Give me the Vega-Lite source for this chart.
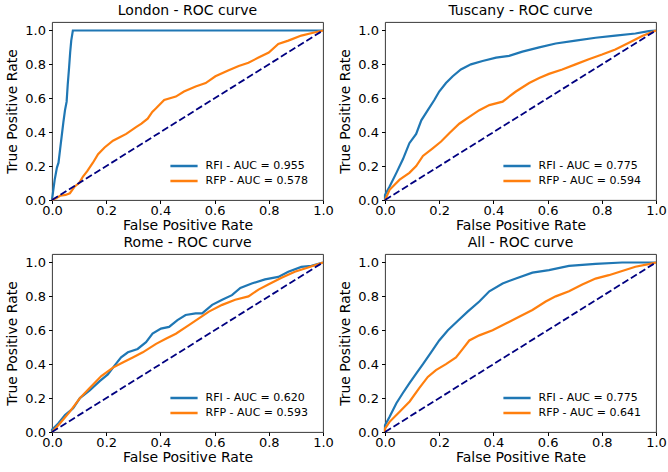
{
"$schema": "https://vega.github.io/schema/vega-lite/v6.json",
"padding": {"left": 5, "top": 3, "right": 0, "bottom": 0},
"config": {
  "font": "DejaVu Sans",
  "view": {"stroke": "#222", "strokeWidth": 0.9},
  "axis": {"domain": false, "grid": false, "tickColor": "black", "tickSize": 3.5, "labelFont": "DejaVu Sans", "labelFontSize": 13, "labelColor": "black", "labelPadding": 3, "titleFont": "DejaVu Sans", "titleFontSize": 14, "titleFontWeight": "normal", "titleColor": "black", "labelFlush": false, "labelOverlap": false, "labelBound": false, "labelSeparation": 0},
  "axisY": {"titlePadding": 5},
  "axisX": {"titlePadding": 1, "labelPadding": 1},
  "title": {"font": "DejaVu Sans", "fontSize": 14, "fontWeight": "normal", "color": "black", "offset": 4},
  "legend": {"orient": "bottom-right", "offset": 14, "padding": 0, "rowPadding": 0, "labelFont": "DejaVu Sans", "labelFontSize": 11, "labelColor": "black", "symbolType": "M-1.6,0H1.6", "symbolSize": 289, "symbolStrokeWidth": 2.5, "labelOffset": 11.5, "title": null}
},
"datasets": {
  "diag": [{"x": 0, "y": 0}, {"x": 1, "y": 1}],
  "roc": [
{"region":"London","label":"RFI - AUC = 0.955","i":0,"x":0,"y":0},
{"region":"London","label":"RFI - AUC = 0.955","i":1,"x":0.004,"y":0.05},
{"region":"London","label":"RFI - AUC = 0.955","i":2,"x":0.01,"y":0.12},
{"region":"London","label":"RFI - AUC = 0.955","i":3,"x":0.018,"y":0.19},
{"region":"London","label":"RFI - AUC = 0.955","i":4,"x":0.024,"y":0.22},
{"region":"London","label":"RFI - AUC = 0.955","i":5,"x":0.03,"y":0.3},
{"region":"London","label":"RFI - AUC = 0.955","i":6,"x":0.036,"y":0.38},
{"region":"London","label":"RFI - AUC = 0.955","i":7,"x":0.042,"y":0.46},
{"region":"London","label":"RFI - AUC = 0.955","i":8,"x":0.048,"y":0.53},
{"region":"London","label":"RFI - AUC = 0.955","i":9,"x":0.054,"y":0.58},
{"region":"London","label":"RFI - AUC = 0.955","i":10,"x":0.058,"y":0.68},
{"region":"London","label":"RFI - AUC = 0.955","i":11,"x":0.063,"y":0.78},
{"region":"London","label":"RFI - AUC = 0.955","i":12,"x":0.067,"y":0.87},
{"region":"London","label":"RFI - AUC = 0.955","i":13,"x":0.071,"y":0.94},
{"region":"London","label":"RFI - AUC = 0.955","i":14,"x":0.075,"y":0.98},
{"region":"London","label":"RFI - AUC = 0.955","i":15,"x":0.077,"y":1.0},
{"region":"London","label":"RFI - AUC = 0.955","i":16,"x":1,"y":1},
{"region":"London","label":"RFP - AUC = 0.578","i":0,"x":0,"y":0},
{"region":"London","label":"RFP - AUC = 0.578","i":1,"x":0.015,"y":0.01},
{"region":"London","label":"RFP - AUC = 0.578","i":2,"x":0.03,"y":0.025},
{"region":"London","label":"RFP - AUC = 0.578","i":3,"x":0.05,"y":0.03},
{"region":"London","label":"RFP - AUC = 0.578","i":4,"x":0.066,"y":0.04},
{"region":"London","label":"RFP - AUC = 0.578","i":5,"x":0.084,"y":0.08},
{"region":"London","label":"RFP - AUC = 0.578","i":6,"x":0.1,"y":0.1},
{"region":"London","label":"RFP - AUC = 0.578","i":7,"x":0.115,"y":0.14},
{"region":"London","label":"RFP - AUC = 0.578","i":8,"x":0.13,"y":0.17},
{"region":"London","label":"RFP - AUC = 0.578","i":9,"x":0.151,"y":0.22},
{"region":"London","label":"RFP - AUC = 0.578","i":10,"x":0.17,"y":0.27},
{"region":"London","label":"RFP - AUC = 0.578","i":11,"x":0.194,"y":0.31},
{"region":"London","label":"RFP - AUC = 0.578","i":12,"x":0.225,"y":0.35},
{"region":"London","label":"RFP - AUC = 0.578","i":13,"x":0.25,"y":0.37},
{"region":"London","label":"RFP - AUC = 0.578","i":14,"x":0.274,"y":0.39},
{"region":"London","label":"RFP - AUC = 0.578","i":15,"x":0.31,"y":0.43},
{"region":"London","label":"RFP - AUC = 0.578","i":16,"x":0.33,"y":0.45},
{"region":"London","label":"RFP - AUC = 0.578","i":17,"x":0.353,"y":0.48},
{"region":"London","label":"RFP - AUC = 0.578","i":18,"x":0.37,"y":0.52},
{"region":"London","label":"RFP - AUC = 0.578","i":19,"x":0.383,"y":0.54},
{"region":"London","label":"RFP - AUC = 0.578","i":20,"x":0.414,"y":0.59},
{"region":"London","label":"RFP - AUC = 0.578","i":21,"x":0.457,"y":0.61},
{"region":"London","label":"RFP - AUC = 0.578","i":22,"x":0.487,"y":0.64},
{"region":"London","label":"RFP - AUC = 0.578","i":23,"x":0.53,"y":0.67},
{"region":"London","label":"RFP - AUC = 0.578","i":24,"x":0.567,"y":0.69},
{"region":"London","label":"RFP - AUC = 0.578","i":25,"x":0.603,"y":0.73},
{"region":"London","label":"RFP - AUC = 0.578","i":26,"x":0.652,"y":0.765},
{"region":"London","label":"RFP - AUC = 0.578","i":27,"x":0.689,"y":0.79},
{"region":"London","label":"RFP - AUC = 0.578","i":28,"x":0.725,"y":0.81},
{"region":"London","label":"RFP - AUC = 0.578","i":29,"x":0.762,"y":0.84},
{"region":"London","label":"RFP - AUC = 0.578","i":30,"x":0.8,"y":0.87},
{"region":"London","label":"RFP - AUC = 0.578","i":31,"x":0.835,"y":0.92},
{"region":"London","label":"RFP - AUC = 0.578","i":32,"x":0.872,"y":0.94},
{"region":"London","label":"RFP - AUC = 0.578","i":33,"x":0.92,"y":0.97},
{"region":"London","label":"RFP - AUC = 0.578","i":34,"x":0.96,"y":0.985},
{"region":"London","label":"RFP - AUC = 0.578","i":35,"x":1,"y":1},
{"region":"Tuscany","label":"RFI - AUC = 0.775","i":0,"x":0,"y":0},
{"region":"Tuscany","label":"RFI - AUC = 0.775","i":1,"x":0,"y":0.03},
{"region":"Tuscany","label":"RFI - AUC = 0.775","i":2,"x":0.017,"y":0.08},
{"region":"Tuscany","label":"RFI - AUC = 0.775","i":3,"x":0.042,"y":0.16},
{"region":"Tuscany","label":"RFI - AUC = 0.775","i":4,"x":0.066,"y":0.24},
{"region":"Tuscany","label":"RFI - AUC = 0.775","i":5,"x":0.09,"y":0.335},
{"region":"Tuscany","label":"RFI - AUC = 0.775","i":6,"x":0.115,"y":0.39},
{"region":"Tuscany","label":"RFI - AUC = 0.775","i":7,"x":0.134,"y":0.47},
{"region":"Tuscany","label":"RFI - AUC = 0.775","i":8,"x":0.158,"y":0.53},
{"region":"Tuscany","label":"RFI - AUC = 0.775","i":9,"x":0.182,"y":0.59},
{"region":"Tuscany","label":"RFI - AUC = 0.775","i":10,"x":0.2,"y":0.64},
{"region":"Tuscany","label":"RFI - AUC = 0.775","i":11,"x":0.225,"y":0.69},
{"region":"Tuscany","label":"RFI - AUC = 0.775","i":12,"x":0.25,"y":0.73},
{"region":"Tuscany","label":"RFI - AUC = 0.775","i":13,"x":0.28,"y":0.77},
{"region":"Tuscany","label":"RFI - AUC = 0.775","i":14,"x":0.317,"y":0.8},
{"region":"Tuscany","label":"RFI - AUC = 0.775","i":15,"x":0.36,"y":0.82},
{"region":"Tuscany","label":"RFI - AUC = 0.775","i":16,"x":0.41,"y":0.84},
{"region":"Tuscany","label":"RFI - AUC = 0.775","i":17,"x":0.458,"y":0.85},
{"region":"Tuscany","label":"RFI - AUC = 0.775","i":18,"x":0.507,"y":0.875},
{"region":"Tuscany","label":"RFI - AUC = 0.775","i":19,"x":0.569,"y":0.9},
{"region":"Tuscany","label":"RFI - AUC = 0.775","i":20,"x":0.63,"y":0.923},
{"region":"Tuscany","label":"RFI - AUC = 0.775","i":21,"x":0.703,"y":0.94},
{"region":"Tuscany","label":"RFI - AUC = 0.775","i":22,"x":0.777,"y":0.957},
{"region":"Tuscany","label":"RFI - AUC = 0.775","i":23,"x":0.85,"y":0.97},
{"region":"Tuscany","label":"RFI - AUC = 0.775","i":24,"x":0.924,"y":0.982},
{"region":"Tuscany","label":"RFI - AUC = 0.775","i":25,"x":0.973,"y":0.996},
{"region":"Tuscany","label":"RFI - AUC = 0.775","i":26,"x":1,"y":1},
{"region":"Tuscany","label":"RFP - AUC = 0.594","i":0,"x":0,"y":0},
{"region":"Tuscany","label":"RFP - AUC = 0.594","i":1,"x":0.017,"y":0.06},
{"region":"Tuscany","label":"RFP - AUC = 0.594","i":2,"x":0.054,"y":0.12},
{"region":"Tuscany","label":"RFP - AUC = 0.594","i":3,"x":0.09,"y":0.16},
{"region":"Tuscany","label":"RFP - AUC = 0.594","i":4,"x":0.115,"y":0.2},
{"region":"Tuscany","label":"RFP - AUC = 0.594","i":5,"x":0.14,"y":0.26},
{"region":"Tuscany","label":"RFP - AUC = 0.594","i":6,"x":0.176,"y":0.305},
{"region":"Tuscany","label":"RFP - AUC = 0.594","i":7,"x":0.207,"y":0.345},
{"region":"Tuscany","label":"RFP - AUC = 0.594","i":8,"x":0.238,"y":0.395},
{"region":"Tuscany","label":"RFP - AUC = 0.594","i":9,"x":0.274,"y":0.45},
{"region":"Tuscany","label":"RFP - AUC = 0.594","i":10,"x":0.311,"y":0.49},
{"region":"Tuscany","label":"RFP - AUC = 0.594","i":11,"x":0.348,"y":0.53},
{"region":"Tuscany","label":"RFP - AUC = 0.594","i":12,"x":0.385,"y":0.56},
{"region":"Tuscany","label":"RFP - AUC = 0.594","i":13,"x":0.434,"y":0.58},
{"region":"Tuscany","label":"RFP - AUC = 0.594","i":14,"x":0.45,"y":0.6},
{"region":"Tuscany","label":"RFP - AUC = 0.594","i":15,"x":0.483,"y":0.64},
{"region":"Tuscany","label":"RFP - AUC = 0.594","i":16,"x":0.532,"y":0.69},
{"region":"Tuscany","label":"RFP - AUC = 0.594","i":17,"x":0.569,"y":0.72},
{"region":"Tuscany","label":"RFP - AUC = 0.594","i":18,"x":0.605,"y":0.744},
{"region":"Tuscany","label":"RFP - AUC = 0.594","i":19,"x":0.654,"y":0.77},
{"region":"Tuscany","label":"RFP - AUC = 0.594","i":20,"x":0.703,"y":0.8},
{"region":"Tuscany","label":"RFP - AUC = 0.594","i":21,"x":0.752,"y":0.83},
{"region":"Tuscany","label":"RFP - AUC = 0.594","i":22,"x":0.801,"y":0.858},
{"region":"Tuscany","label":"RFP - AUC = 0.594","i":23,"x":0.85,"y":0.888},
{"region":"Tuscany","label":"RFP - AUC = 0.594","i":24,"x":0.9,"y":0.927},
{"region":"Tuscany","label":"RFP - AUC = 0.594","i":25,"x":0.949,"y":0.967},
{"region":"Tuscany","label":"RFP - AUC = 0.594","i":26,"x":1,"y":1},
{"region":"Rome","label":"RFI - AUC = 0.620","i":0,"x":0,"y":0},
{"region":"Rome","label":"RFI - AUC = 0.620","i":1,"x":0,"y":0.014},
{"region":"Rome","label":"RFI - AUC = 0.620","i":2,"x":0.023,"y":0.05},
{"region":"Rome","label":"RFI - AUC = 0.620","i":3,"x":0.048,"y":0.1},
{"region":"Rome","label":"RFI - AUC = 0.620","i":4,"x":0.078,"y":0.14},
{"region":"Rome","label":"RFI - AUC = 0.620","i":5,"x":0.103,"y":0.2},
{"region":"Rome","label":"RFI - AUC = 0.620","i":6,"x":0.139,"y":0.246},
{"region":"Rome","label":"RFI - AUC = 0.620","i":7,"x":0.176,"y":0.3},
{"region":"Rome","label":"RFI - AUC = 0.620","i":8,"x":0.206,"y":0.34},
{"region":"Rome","label":"RFI - AUC = 0.620","i":9,"x":0.23,"y":0.39},
{"region":"Rome","label":"RFI - AUC = 0.620","i":10,"x":0.255,"y":0.44},
{"region":"Rome","label":"RFI - AUC = 0.620","i":11,"x":0.28,"y":0.47},
{"region":"Rome","label":"RFI - AUC = 0.620","i":12,"x":0.316,"y":0.49},
{"region":"Rome","label":"RFI - AUC = 0.620","i":13,"x":0.347,"y":0.53},
{"region":"Rome","label":"RFI - AUC = 0.620","i":14,"x":0.371,"y":0.58},
{"region":"Rome","label":"RFI - AUC = 0.620","i":15,"x":0.402,"y":0.61},
{"region":"Rome","label":"RFI - AUC = 0.620","i":16,"x":0.432,"y":0.62},
{"region":"Rome","label":"RFI - AUC = 0.620","i":17,"x":0.463,"y":0.66},
{"region":"Rome","label":"RFI - AUC = 0.620","i":18,"x":0.493,"y":0.69},
{"region":"Rome","label":"RFI - AUC = 0.620","i":19,"x":0.53,"y":0.7},
{"region":"Rome","label":"RFI - AUC = 0.620","i":20,"x":0.554,"y":0.7},
{"region":"Rome","label":"RFI - AUC = 0.620","i":21,"x":0.591,"y":0.75},
{"region":"Rome","label":"RFI - AUC = 0.620","i":22,"x":0.628,"y":0.78},
{"region":"Rome","label":"RFI - AUC = 0.620","i":23,"x":0.664,"y":0.807},
{"region":"Rome","label":"RFI - AUC = 0.620","i":24,"x":0.695,"y":0.85},
{"region":"Rome","label":"RFI - AUC = 0.620","i":25,"x":0.737,"y":0.876},
{"region":"Rome","label":"RFI - AUC = 0.620","i":26,"x":0.786,"y":0.9},
{"region":"Rome","label":"RFI - AUC = 0.620","i":27,"x":0.835,"y":0.915},
{"region":"Rome","label":"RFI - AUC = 0.620","i":28,"x":0.872,"y":0.945},
{"region":"Rome","label":"RFI - AUC = 0.620","i":29,"x":0.92,"y":0.974},
{"region":"Rome","label":"RFI - AUC = 0.620","i":30,"x":0.957,"y":0.98},
{"region":"Rome","label":"RFI - AUC = 0.620","i":31,"x":1,"y":1},
{"region":"Rome","label":"RFP - AUC = 0.593","i":0,"x":0,"y":0},
{"region":"Rome","label":"RFP - AUC = 0.593","i":1,"x":0.029,"y":0.05},
{"region":"Rome","label":"RFP - AUC = 0.593","i":2,"x":0.066,"y":0.12},
{"region":"Rome","label":"RFP - AUC = 0.593","i":3,"x":0.103,"y":0.2},
{"region":"Rome","label":"RFP - AUC = 0.593","i":4,"x":0.139,"y":0.26},
{"region":"Rome","label":"RFP - AUC = 0.593","i":5,"x":0.182,"y":0.33},
{"region":"Rome","label":"RFP - AUC = 0.593","i":6,"x":0.225,"y":0.38},
{"region":"Rome","label":"RFP - AUC = 0.593","i":7,"x":0.261,"y":0.41},
{"region":"Rome","label":"RFP - AUC = 0.593","i":8,"x":0.298,"y":0.44},
{"region":"Rome","label":"RFP - AUC = 0.593","i":9,"x":0.335,"y":0.47},
{"region":"Rome","label":"RFP - AUC = 0.593","i":10,"x":0.384,"y":0.52},
{"region":"Rome","label":"RFP - AUC = 0.593","i":11,"x":0.42,"y":0.55},
{"region":"Rome","label":"RFP - AUC = 0.593","i":12,"x":0.457,"y":0.58},
{"region":"Rome","label":"RFP - AUC = 0.593","i":13,"x":0.505,"y":0.63},
{"region":"Rome","label":"RFP - AUC = 0.593","i":14,"x":0.542,"y":0.67},
{"region":"Rome","label":"RFP - AUC = 0.593","i":15,"x":0.579,"y":0.71},
{"region":"Rome","label":"RFP - AUC = 0.593","i":16,"x":0.628,"y":0.75},
{"region":"Rome","label":"RFP - AUC = 0.593","i":17,"x":0.676,"y":0.78},
{"region":"Rome","label":"RFP - AUC = 0.593","i":18,"x":0.725,"y":0.8},
{"region":"Rome","label":"RFP - AUC = 0.593","i":19,"x":0.762,"y":0.84},
{"region":"Rome","label":"RFP - AUC = 0.593","i":20,"x":0.798,"y":0.87},
{"region":"Rome","label":"RFP - AUC = 0.593","i":21,"x":0.847,"y":0.91},
{"region":"Rome","label":"RFP - AUC = 0.593","i":22,"x":0.896,"y":0.945},
{"region":"Rome","label":"RFP - AUC = 0.593","i":23,"x":0.945,"y":0.97},
{"region":"Rome","label":"RFP - AUC = 0.593","i":24,"x":1,"y":1},
{"region":"All","label":"RFI - AUC = 0.775","i":0,"x":0,"y":0},
{"region":"All","label":"RFI - AUC = 0.775","i":1,"x":0,"y":0.04},
{"region":"All","label":"RFI - AUC = 0.775","i":2,"x":0.017,"y":0.09},
{"region":"All","label":"RFI - AUC = 0.775","i":3,"x":0.042,"y":0.17},
{"region":"All","label":"RFI - AUC = 0.775","i":4,"x":0.066,"y":0.23},
{"region":"All","label":"RFI - AUC = 0.775","i":5,"x":0.091,"y":0.29},
{"region":"All","label":"RFI - AUC = 0.775","i":6,"x":0.115,"y":0.345},
{"region":"All","label":"RFI - AUC = 0.775","i":7,"x":0.14,"y":0.4},
{"region":"All","label":"RFI - AUC = 0.775","i":8,"x":0.17,"y":0.47},
{"region":"All","label":"RFI - AUC = 0.775","i":9,"x":0.2,"y":0.54},
{"region":"All","label":"RFI - AUC = 0.775","i":10,"x":0.232,"y":0.6},
{"region":"All","label":"RFI - AUC = 0.775","i":11,"x":0.268,"y":0.655},
{"region":"All","label":"RFI - AUC = 0.775","i":12,"x":0.305,"y":0.71},
{"region":"All","label":"RFI - AUC = 0.775","i":13,"x":0.348,"y":0.77},
{"region":"All","label":"RFI - AUC = 0.775","i":14,"x":0.385,"y":0.83},
{"region":"All","label":"RFI - AUC = 0.775","i":15,"x":0.434,"y":0.876},
{"region":"All","label":"RFI - AUC = 0.775","i":16,"x":0.483,"y":0.906},
{"region":"All","label":"RFI - AUC = 0.775","i":17,"x":0.544,"y":0.94},
{"region":"All","label":"RFI - AUC = 0.775","i":18,"x":0.605,"y":0.955},
{"region":"All","label":"RFI - AUC = 0.775","i":19,"x":0.679,"y":0.98},
{"region":"All","label":"RFI - AUC = 0.775","i":20,"x":0.777,"y":0.992},
{"region":"All","label":"RFI - AUC = 0.775","i":21,"x":0.875,"y":1.0},
{"region":"All","label":"RFI - AUC = 0.775","i":22,"x":1,"y":1},
{"region":"All","label":"RFP - AUC = 0.641","i":0,"x":0,"y":0},
{"region":"All","label":"RFP - AUC = 0.641","i":1,"x":0,"y":0.02},
{"region":"All","label":"RFP - AUC = 0.641","i":2,"x":0.017,"y":0.06},
{"region":"All","label":"RFP - AUC = 0.641","i":3,"x":0.054,"y":0.12},
{"region":"All","label":"RFP - AUC = 0.641","i":4,"x":0.091,"y":0.18},
{"region":"All","label":"RFP - AUC = 0.641","i":5,"x":0.127,"y":0.26},
{"region":"All","label":"RFP - AUC = 0.641","i":6,"x":0.158,"y":0.325},
{"region":"All","label":"RFP - AUC = 0.641","i":7,"x":0.188,"y":0.365},
{"region":"All","label":"RFP - AUC = 0.641","i":8,"x":0.225,"y":0.4},
{"region":"All","label":"RFP - AUC = 0.641","i":9,"x":0.262,"y":0.44},
{"region":"All","label":"RFP - AUC = 0.641","i":10,"x":0.287,"y":0.49},
{"region":"All","label":"RFP - AUC = 0.641","i":11,"x":0.311,"y":0.54},
{"region":"All","label":"RFP - AUC = 0.641","i":12,"x":0.348,"y":0.57},
{"region":"All","label":"RFP - AUC = 0.641","i":13,"x":0.397,"y":0.6},
{"region":"All","label":"RFP - AUC = 0.641","i":14,"x":0.446,"y":0.64},
{"region":"All","label":"RFP - AUC = 0.641","i":15,"x":0.495,"y":0.68},
{"region":"All","label":"RFP - AUC = 0.641","i":16,"x":0.544,"y":0.72},
{"region":"All","label":"RFP - AUC = 0.641","i":17,"x":0.593,"y":0.77},
{"region":"All","label":"RFP - AUC = 0.641","i":18,"x":0.63,"y":0.8},
{"region":"All","label":"RFP - AUC = 0.641","i":19,"x":0.679,"y":0.83},
{"region":"All","label":"RFP - AUC = 0.641","i":20,"x":0.728,"y":0.87},
{"region":"All","label":"RFP - AUC = 0.641","i":21,"x":0.777,"y":0.905},
{"region":"All","label":"RFP - AUC = 0.641","i":22,"x":0.826,"y":0.925},
{"region":"All","label":"RFP - AUC = 0.641","i":23,"x":0.875,"y":0.95},
{"region":"All","label":"RFP - AUC = 0.641","i":24,"x":0.924,"y":0.975},
{"region":"All","label":"RFP - AUC = 0.641","i":25,"x":0.973,"y":0.99},
{"region":"All","label":"RFP - AUC = 0.641","i":26,"x":1,"y":1}
  ]
},
"columns": 2,
"spacing": {"row": 2, "column": 4},
"resolve": {"scale": {"color": "independent"}},
"concat": [
  {"title": {"text": "London - ROC curve", "fontWeight": "normal", "fontSize": 14}, "width": 271, "height": 178,
   "encoding": {"x": {"field": "x", "type": "quantitative", "scale": {"domain": [0, 1], "nice": false}, "axis": {"values": [0, 0.2, 0.4, 0.6, 0.8, 1], "format": ".1f", "labelOverlap": false, "labelFlush": false}, "title": "False Positive Rate"},
                "y": {"field": "y", "type": "quantitative", "scale": {"domain": [0, 1.05], "nice": false}, "axis": {"values": [0, 0.2, 0.4, 0.6, 0.8, 1], "format": ".1f", "labelOverlap": false}, "title": "True Positive Rate"}},
   "layer": [
    {"data": {"name": "roc"}, "transform": [{"filter": "datum.region === 'London'"}], "mark": {"type": "line", "strokeWidth": 2.2},
     "encoding": {"color": {"field": "label", "type": "nominal", "scale": {"range": ["#1f77b4", "#ff7f0e"]}}, "order": {"field": "i", "type": "quantitative"}}},
    {"data": {"name": "diag"}, "mark": {"type": "line", "color": "#000080", "strokeDash": [7, 3], "strokeWidth": 1.8}, "encoding": {}}
  ]},
  {"title": {"text": "Tuscany - ROC curve", "fontWeight": "normal", "fontSize": 14}, "width": 271, "height": 178,
   "encoding": {"x": {"field": "x", "type": "quantitative", "scale": {"domain": [0, 1], "nice": false}, "axis": {"values": [0, 0.2, 0.4, 0.6, 0.8, 1], "format": ".1f", "labelOverlap": false, "labelFlush": false}, "title": "False Positive Rate"},
                "y": {"field": "y", "type": "quantitative", "scale": {"domain": [0, 1.05], "nice": false}, "axis": {"values": [0, 0.2, 0.4, 0.6, 0.8, 1], "format": ".1f", "labelOverlap": false}, "title": "True Positive Rate"}},
   "layer": [
    {"data": {"name": "roc"}, "transform": [{"filter": "datum.region === 'Tuscany'"}], "mark": {"type": "line", "strokeWidth": 2.2},
     "encoding": {"color": {"field": "label", "type": "nominal", "scale": {"range": ["#1f77b4", "#ff7f0e"]}}, "order": {"field": "i", "type": "quantitative"}}},
    {"data": {"name": "diag"}, "mark": {"type": "line", "color": "#000080", "strokeDash": [7, 3], "strokeWidth": 1.8}, "encoding": {}}
  ]},
  {"title": {"text": "Rome - ROC curve", "fontWeight": "normal", "fontSize": 14}, "width": 271, "height": 178,
   "encoding": {"x": {"field": "x", "type": "quantitative", "scale": {"domain": [0, 1], "nice": false}, "axis": {"values": [0, 0.2, 0.4, 0.6, 0.8, 1], "format": ".1f", "labelOverlap": false, "labelFlush": false}, "title": "False Positive Rate"},
                "y": {"field": "y", "type": "quantitative", "scale": {"domain": [0, 1.05], "nice": false}, "axis": {"values": [0, 0.2, 0.4, 0.6, 0.8, 1], "format": ".1f", "labelOverlap": false}, "title": "True Positive Rate"}},
   "layer": [
    {"data": {"name": "roc"}, "transform": [{"filter": "datum.region === 'Rome'"}], "mark": {"type": "line", "strokeWidth": 2.2},
     "encoding": {"color": {"field": "label", "type": "nominal", "scale": {"range": ["#1f77b4", "#ff7f0e"]}}, "order": {"field": "i", "type": "quantitative"}}},
    {"data": {"name": "diag"}, "mark": {"type": "line", "color": "#000080", "strokeDash": [7, 3], "strokeWidth": 1.8}, "encoding": {}}
  ]},
  {"title": {"text": "All - ROC curve", "fontWeight": "normal", "fontSize": 14}, "width": 271, "height": 178,
   "encoding": {"x": {"field": "x", "type": "quantitative", "scale": {"domain": [0, 1], "nice": false}, "axis": {"values": [0, 0.2, 0.4, 0.6, 0.8, 1], "format": ".1f", "labelOverlap": false, "labelFlush": false}, "title": "False Positive Rate"},
                "y": {"field": "y", "type": "quantitative", "scale": {"domain": [0, 1.05], "nice": false}, "axis": {"values": [0, 0.2, 0.4, 0.6, 0.8, 1], "format": ".1f", "labelOverlap": false}, "title": "True Positive Rate"}},
   "layer": [
    {"data": {"name": "roc"}, "transform": [{"filter": "datum.region === 'All'"}], "mark": {"type": "line", "strokeWidth": 2.2},
     "encoding": {"color": {"field": "label", "type": "nominal", "scale": {"range": ["#1f77b4", "#ff7f0e"]}}, "order": {"field": "i", "type": "quantitative"}}},
    {"data": {"name": "diag"}, "mark": {"type": "line", "color": "#000080", "strokeDash": [7, 3], "strokeWidth": 1.8}, "encoding": {}}
  ]}
]
}
